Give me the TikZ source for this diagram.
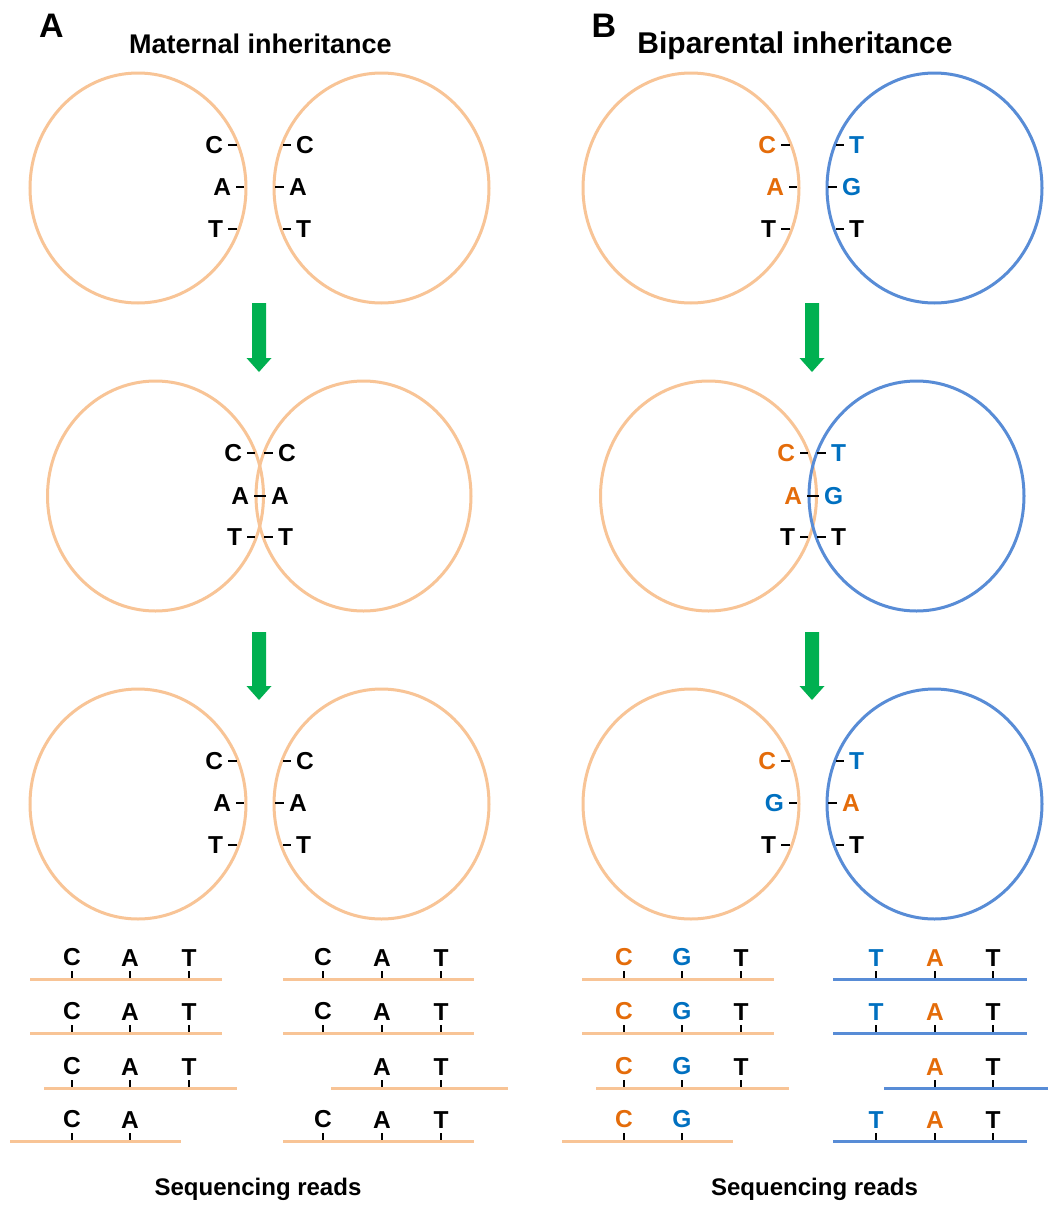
\documentclass[tikz,border=0pt]{standalone}
\usepackage{fontspec}
\setmainfont{Liberation Sans}
\definecolor{peach}{RGB}{248,196,150}
\definecolor{cblue}{RGB}{88,140,214}
\definecolor{lorange}{RGB}{228,108,10}
\definecolor{lblue}{RGB}{0,112,192}
\definecolor{agreen}{RGB}{0,176,80}
\newcommand\leftbase[6]{\draw[tickline] (#2,#4) -- (#3,#4); \node[base,text=#6,anchor=east] (#1) at ({#2-5},#4) {#5};}
\newcommand\rightbase[6]{\draw[tickline] (#2,#4) -- (#3,#4); \node[base,text=#6,anchor=west] (#1) at ({#3+5},#4) {#5};}
\newcommand\readbase[5]{\node[base,text=#5,anchor=south] (#1) at (#2,{#3-13}) {#4}; \draw[tickline] (#2,{#3-8}) -- (#2,#3);}
\newcommand\greenarrow[3]{\fill[agreen] ({#1-7},#2) -- ({#1+7},#2) -- ({#1+7},{#3-14}) -- ({#1+12.5},{#3-14}) -- (#1,#3) -- ({#1-12.5},{#3-14}) -- ({#1-7},{#3-14}) -- cycle;}
\begin{document}
\begin{tikzpicture}[x=1pt,y=-1pt,
  every node/.style={inner sep=0pt,outer sep=0pt},
  base/.style={font=\fontsize{24.5}{24.5}\selectfont\bfseries},
  ttl/.style={font=\fontsize{27}{27}\selectfont\bfseries,anchor=base},
  ttlb/.style={font=\fontsize{30}{30}\selectfont\bfseries,anchor=base},
  plabel/.style={font=\fontsize{34}{34}\selectfont\bfseries,anchor=base},
  captxt/.style={font=\fontsize{24}{24}\selectfont\bfseries,anchor=base},
  momring/.style={draw=peach,line width=3pt},
  dadring/.style={draw=cblue,line width=3pt},
  tickline/.style={draw=black,line width=2.8pt},
  momread/.style={draw=peach,line width=3pt},
  dadread/.style={draw=cblue,line width=3pt}]
\useasboundingbox[fill=white] (0,0) rectangle (1048,1205);

% headings
\node[plabel] (labA) at (51.5,37) {A};
\node[plabel] (labB) at (604,37) {B};
\node[ttl] (ttlA) at (260.5,53) {Maternal inheritance};
\node[ttlb] (ttlB) at (795,53) {Biparental inheritance};

% ---------- Panel A top
\begin{scope}[name prefix=At-]
\draw[momring] (138,188) ellipse [x radius=108pt,y radius=115pt];
\draw[momring] (381.5,188) ellipse [x radius=107.5pt,y radius=115pt];
\leftbase{l1}{228}{237}{145}{C}{black}
\leftbase{l2}{236}{244}{187}{A}{black}
\leftbase{l3}{228}{237}{229}{T}{black}
\rightbase{r1}{283}{291}{145}{C}{black}
\rightbase{r2}{275}{284}{187}{A}{black}
\rightbase{r3}{283}{291}{229}{T}{black}
\end{scope}

% ---------- Panel A middle
\begin{scope}[name prefix=Am-]
\draw[momring] (155.5,496) ellipse [x radius=108pt,y radius=115pt];
\draw[momring] (363.5,496) ellipse [x radius=107.5pt,y radius=115pt];
\leftbase{l1}{247}{255}{453}{C}{black}
\rightbase{r1}{264}{273}{453}{C}{black}
\draw[tickline] (254,496) -- (266,496);
\node[base,anchor=east] (l2) at (249,496) {A};
\node[base,anchor=west] (r2) at (271,496) {A};
\leftbase{l3}{247}{255}{537}{T}{black}
\rightbase{r3}{264}{273}{537}{T}{black}
\end{scope}

% ---------- Panel A bottom
\begin{scope}[shift={(0,616)},name prefix=Ab-]
\draw[momring] (138,188) ellipse [x radius=108pt,y radius=115pt];
\draw[momring] (381.5,188) ellipse [x radius=107.5pt,y radius=115pt];
\leftbase{l1}{228}{237}{145}{C}{black}
\leftbase{l2}{236}{244}{187}{A}{black}
\leftbase{l3}{228}{237}{229}{T}{black}
\rightbase{r1}{283}{291}{145}{C}{black}
\rightbase{r2}{275}{284}{187}{A}{black}
\rightbase{r3}{283}{291}{229}{T}{black}
\end{scope}

% ---------- Panel B top
\begin{scope}[shift={(553,0)},name prefix=Bt-]
\draw[momring] (138,188) ellipse [x radius=108pt,y radius=115pt];
\draw[dadring] (381.5,188) ellipse [x radius=107.5pt,y radius=115pt];
\leftbase{l1}{228}{237}{145}{C}{lorange}
\leftbase{l2}{236}{244}{187}{A}{lorange}
\leftbase{l3}{228}{237}{229}{T}{black}
\rightbase{r1}{283}{291}{145}{T}{lblue}
\rightbase{r2}{275}{284}{187}{G}{lblue}
\rightbase{r3}{283}{291}{229}{T}{black}
\end{scope}

% ---------- Panel B middle
\begin{scope}[shift={(553,0)},name prefix=Bm-]
\draw[momring] (155.5,496) ellipse [x radius=108pt,y radius=115pt];
\draw[dadring] (363.5,496) ellipse [x radius=107.5pt,y radius=115pt];
\leftbase{l1}{247}{255}{453}{C}{lorange}
\rightbase{r1}{264}{273}{453}{T}{lblue}
\draw[tickline] (254,496) -- (266,496);
\node[base,anchor=east,text=lorange] (l2) at (249,496) {A};
\node[base,anchor=west,text=lblue] (r2) at (271,496) {G};
\leftbase{l3}{247}{255}{537}{T}{black}
\rightbase{r3}{264}{273}{537}{T}{black}
\end{scope}

% ---------- Panel B bottom
\begin{scope}[shift={(553,616)},name prefix=Bb-]
\draw[momring] (138,188) ellipse [x radius=108pt,y radius=115pt];
\draw[dadring] (381.5,188) ellipse [x radius=107.5pt,y radius=115pt];
\leftbase{l1}{228}{237}{145}{C}{lorange}
\leftbase{l2}{236}{244}{187}{G}{lblue}
\leftbase{l3}{228}{237}{229}{T}{black}
\rightbase{r1}{283}{291}{145}{T}{lblue}
\rightbase{r2}{275}{284}{187}{A}{lorange}
\rightbase{r3}{283}{291}{229}{T}{black}
\end{scope}

% ---------- arrows
\greenarrow{259}{303}{372}
\greenarrow{259}{632}{700}
\greenarrow{812}{303}{372}
\greenarrow{812}{632}{700}

% ---------- reads panel A, left
\readbase{ra1c}{72}{979}{C}{black}\readbase{ra1a}{130}{979}{A}{black}\readbase{ra1t}{189}{979}{T}{black}
\draw[momread] (30,979) -- (222,979);
\readbase{ra2c}{72}{1033}{C}{black}\readbase{ra2a}{130}{1033}{A}{black}\readbase{ra2t}{189}{1033}{T}{black}
\draw[momread] (30,1033) -- (222,1033);
\readbase{ra3c}{72}{1088}{C}{black}\readbase{ra3a}{130}{1088}{A}{black}\readbase{ra3t}{189}{1088}{T}{black}
\draw[momread] (44,1088) -- (237,1088);
\readbase{ra4c}{72}{1141}{C}{black}\readbase{ra4a}{130}{1141}{A}{black}
\draw[momread] (10,1141) -- (181,1141);

% ---------- reads panel A, right
\readbase{sa1c}{323}{979}{C}{black}\readbase{sa1a}{382}{979}{A}{black}\readbase{sa1t}{441}{979}{T}{black}
\draw[momread] (283,979) -- (474,979);
\readbase{sa2c}{323}{1033}{C}{black}\readbase{sa2a}{382}{1033}{A}{black}\readbase{sa2t}{441}{1033}{T}{black}
\draw[momread] (283,1033) -- (474,1033);
\readbase{sa3a}{382}{1088}{A}{black}\readbase{sa3t}{441}{1088}{T}{black}
\draw[momread] (331,1088) -- (508,1088);
\readbase{sa4c}{323}{1141}{C}{black}\readbase{sa4a}{382}{1141}{A}{black}\readbase{sa4t}{441}{1141}{T}{black}
\draw[momread] (283,1141) -- (474,1141);

% ---------- reads panel B, left
\readbase{rb1c}{624}{979}{C}{lorange}\readbase{rb1g}{682}{979}{G}{lblue}\readbase{rb1t}{741}{979}{T}{black}
\draw[momread] (582,979) -- (774,979);
\readbase{rb2c}{624}{1033}{C}{lorange}\readbase{rb2g}{682}{1033}{G}{lblue}\readbase{rb2t}{741}{1033}{T}{black}
\draw[momread] (582,1033) -- (774,1033);
\readbase{rb3c}{624}{1088}{C}{lorange}\readbase{rb3g}{682}{1088}{G}{lblue}\readbase{rb3t}{741}{1088}{T}{black}
\draw[momread] (596,1088) -- (789,1088);
\readbase{rb4c}{624}{1141}{C}{lorange}\readbase{rb4g}{682}{1141}{G}{lblue}
\draw[momread] (562,1141) -- (733,1141);

% ---------- reads panel B, right
\readbase{sb1t}{876}{979}{T}{lblue}\readbase{sb1a}{935}{979}{A}{lorange}\readbase{sb1u}{993}{979}{T}{black}
\draw[dadread] (833,979) -- (1027,979);
\readbase{sb2t}{876}{1033}{T}{lblue}\readbase{sb2a}{935}{1033}{A}{lorange}\readbase{sb2u}{993}{1033}{T}{black}
\draw[dadread] (833,1033) -- (1027,1033);
\readbase{sb3a}{935}{1088}{A}{lorange}\readbase{sb3u}{993}{1088}{T}{black}
\draw[dadread] (884,1088) -- (1048,1088);
\readbase{sb4t}{876}{1141}{T}{lblue}\readbase{sb4a}{935}{1141}{A}{lorange}\readbase{sb4u}{993}{1141}{T}{black}
\draw[dadread] (833,1141) -- (1027,1141);

% captions
\node[captxt] (capA) at (258,1195) {Sequencing reads};
\node[captxt] (capB) at (814.5,1195) {Sequencing reads};
\end{tikzpicture}
\end{document}
